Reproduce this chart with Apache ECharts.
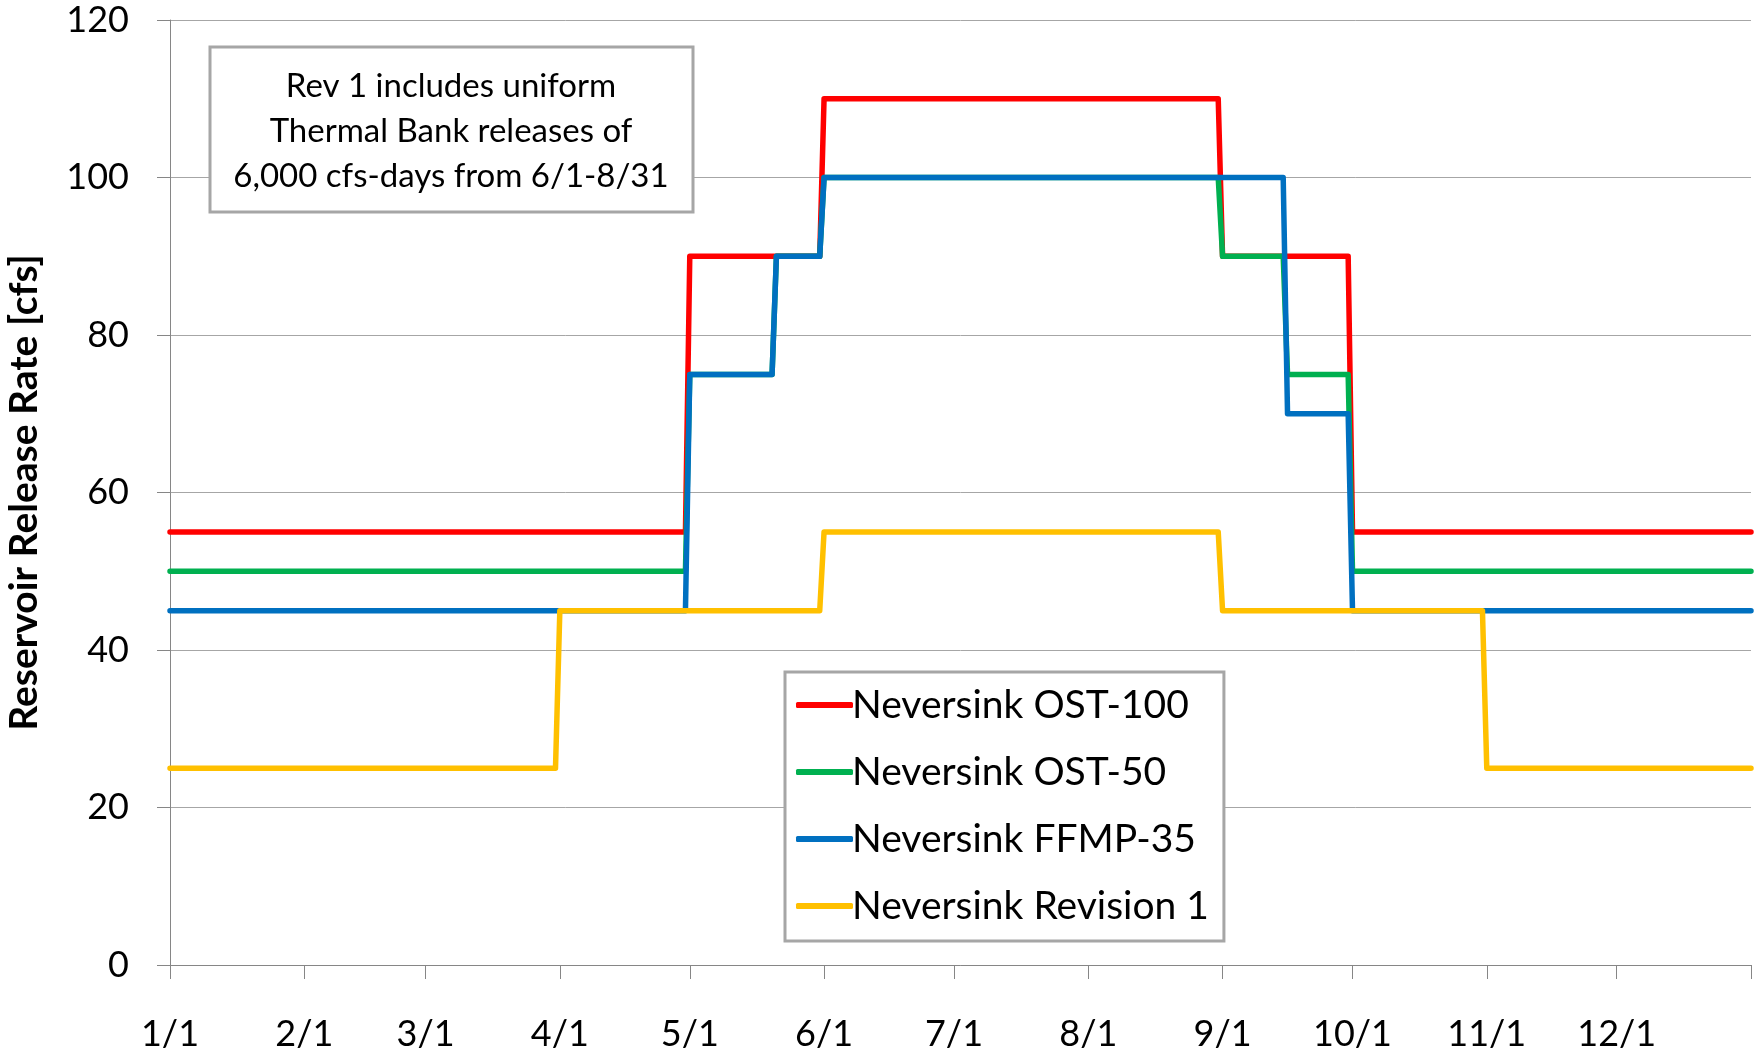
<!DOCTYPE html>
<html>
<head>
<meta charset="utf-8">
<script src="https://cdn.jsdelivr.net/npm/echarts@6/dist/echarts.min.js"></script>
<style>html,body{margin:0;padding:0;background:#fff}#c{width:1754px;height:1058px}</style>
</head>
<body>
<div id="c"></div>
<script>
// Day-of-year (0 = Jan 1) of each month start, plus year end
const monthStarts = [0, 31, 59, 90, 120, 151, 181, 212, 243, 273, 304, 334, 365];
const monthLabels = ['1/1','2/1','3/1','4/1','5/1','6/1','7/1','8/1','9/1','10/1','11/1','12/1'];
const yTicks = [0, 20, 40, 60, 80, 100, 120];

const seriesNames = ['Neversink OST-100','Neversink OST-50','Neversink FFMP-35','Neversink Revision 1'];

const ost100Days = [0, 119, 120, 150, 151, 242, 243, 272, 273, 365];
const ost100Vals = [55, 55, 90, 90, 110, 110, 90, 90, 55, 55];

const ost50Days = [0, 119, 120, 139, 140, 150, 151, 242, 243, 257, 258, 272, 273, 365];
const ost50Vals = [50, 50, 75, 75, 90, 90, 100, 100, 90, 90, 75, 75, 50, 50];

const ffmpDays = [0, 119, 120, 139, 140, 150, 151, 257, 258, 272, 273, 365];
const ffmpVals = [45, 45, 75, 75, 90, 90, 100, 100, 70, 70, 45, 45];

const rev1Days = [0, 89, 90, 150, 151, 242, 243, 303, 304, 365];
const rev1Vals = [25, 25, 45, 45, 55, 55, 45, 45, 25, 25];

const noteLines = ['Rev 1 includes uniform', 'Thermal Bank releases of', '6,000 cfs-days from 6/1-8/31'];

const colors = ['#FF0000', '#00B050', '#0070C0', '#FFC000'];
const FONT = 'Lato';

function pairs(d, v) { return d.map((x, i) => [x, v[i]]); }

const allData = [
  pairs(ost100Days, ost100Vals),
  pairs(ost50Days, ost50Vals),
  pairs(ffmpDays, ffmpVals),
  pairs(rev1Days, rev1Vals)
];

const chart = echarts.init(document.getElementById('c'), null, {renderer: 'canvas'});
chart.setOption({
  animation: false,
  backgroundColor: '#fff',
  grid: {left: 170, right: 3, top: 20, bottom: 93, containLabel: false, outerBoundsMode: 'none'},
  xAxis: {
    type: 'value', min: 0, max: 365,
    axisLine: {show: true, lineStyle: {color: '#868686', width: 1}},
    axisTick: {show: true, customValues: monthStarts, length: 14, lineStyle: {color: '#868686'}},
    axisLabel: {
      customValues: monthStarts.slice(0, 12),
      formatter: v => monthLabels[monthStarts.indexOf(v)],
      fontFamily: FONT, fontSize: 36, color: '#000', margin: 51
    },
    splitLine: {show: false}
  },
  yAxis: {
    type: 'value', min: 0, max: 120, interval: 20,
    name: 'Reservoir Release Rate [cfs]',
    nameLocation: 'middle', nameRotate: 90, nameGap: 126,
    nameTextStyle: {fontFamily: FONT, fontSize: 39, fontWeight: 'bold', color: '#000'},
    axisLine: {show: true, lineStyle: {color: '#868686', width: 1}},
    axisTick: {show: true, length: 13, lineStyle: {color: '#868686'}},
    axisLabel: {fontFamily: FONT, fontSize: 36, color: '#000', margin: 41,
      formatter: v => yTicks.includes(v) ? String(v) : ''},
    splitLine: {show: true, lineStyle: {color: '#A6A6A6', width: 1}}
  },
  legend: {
    orient: 'vertical', left: 785, top: 672,
    data: seriesNames,
    icon: 'roundRect', itemWidth: 57, itemHeight: 6, itemGap: 27,
    padding: [13, 15, 15, 11],
    borderColor: '#A6A6A6', borderWidth: 3, backgroundColor: '#fff',
    textStyle: {fontFamily: FONT, fontSize: 39, color: '#000', lineHeight: 40, padding: [0, 0, 0, -6]}
  },
  graphic: [
    {type: 'rect', z: 100, shape: {x: 210, y: 47, width: 483, height: 165},
     style: {fill: '#fff', stroke: '#A6A6A6', lineWidth: 3}},
    {type: 'text', z: 101, x: 451, y: 131,
     style: {text: noteLines.join('\n'), fill: '#000', fontFamily: FONT, fontSize: 33,
             lineHeight: 45, align: 'center', verticalAlign: 'middle'}}
  ],
  series: seriesNames.map((n, i) => ({
    name: n, type: 'line', data: allData[i], showSymbol: false, symbol: 'none',
    color: colors[i],
    lineStyle: {color: colors[i], width: 5.5, cap: 'round', join: 'round'},
    clip: true
  }))
});
</script>
</body>
</html>
